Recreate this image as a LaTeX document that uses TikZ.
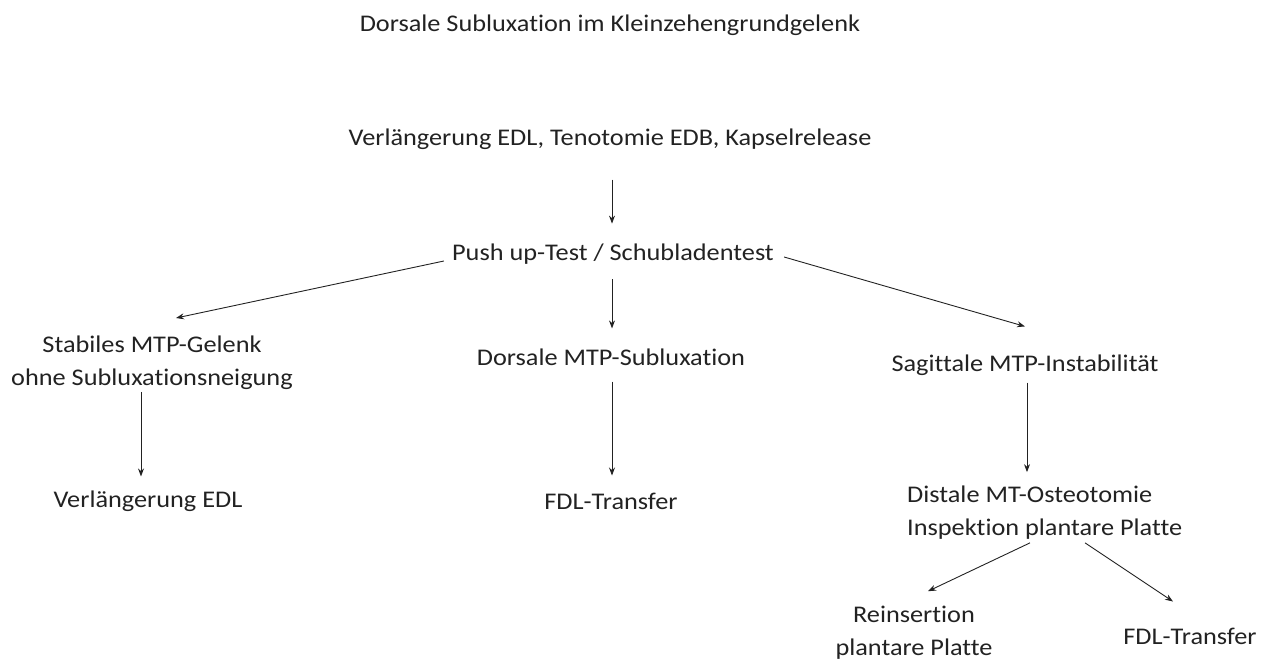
\documentclass[tikz,border=0pt]{standalone}
\usepackage{fontspec}
\setmainfont{Carlito}[Ligatures={NoCommon}, FakeStretch=1.1]
\usetikzlibrary{arrows.meta,calc}
\definecolor{ink}{HTML}{222222}
\tikzset{
  lbl/.style={inner sep=0pt, align=center, text=ink, font=\fontsize{24}{33}\selectfont},
  arr/.style={draw=ink, line width=0.9bp, -{Stealth[length=8bp,width=6bp]}}
}
\begin{document}
\begin{tikzpicture}[x=1bp,y=-1bp]
\useasboundingbox (0,0) rectangle (1269,664);
\node[lbl] (title) at (610,25) {Dorsale Subluxation im Kleinzehengrundgelenk};
\node[lbl] (verl) at (610,139) {Verlängerung EDL, Tenotomie EDB, Kapselrelease};
\node[lbl] (push) at (613,254) {Push up-Test / Schubladentest};
\node[lbl] (stab) at (152,363) {Stabiles MTP-Gelenk\\ohne Subluxationsneigung};
\node[lbl] (dors) at (611,357) {Dorsale MTP-Subluxation};
\node[lbl] (sag) at (1025,365) {Sagittale MTP-Instabilität};
\node[lbl] (edl) at (148,501) {Verlängerung EDL};
\node[lbl] (fdl) at (611,501) {FDL-Transfer};
\node[lbl, align=left, anchor=west] (dist) at (907,513) {Distale MT-Osteotomie\\Inspektion plantare Platte};
\node[lbl] (rein) at (914,633) {Reinsertion\\plantare Platte};
\node[lbl] (fdl2) at (1190,636) {FDL-Transfer};

\draw[arr] ($(verl.south -| 612,0)+(0,30)$) -- ($(push.north -| 612,0)+(0,-20)$);
\draw[arr] ($(push.west)+(-8,7)$) -- ($(stab.north west)+(165,-18)$);
\draw[arr] ($(push.south -| 612,0)+(0,15)$) -- ($(dors.north -| 612,0)+(0,-20)$);
\draw[arr] ($(push.east)+(10,3)$) -- ($(sag.north -| 1025,0)+(0,-28)$);
\draw[arr] ($(stab.south -| 141,0)+(0,2)$) -- ($(edl.north -| 141,0)+(0,-14)$);
\draw[arr] ($(dors.south -| 612,0)+(0,16)$) -- ($(fdl.north -| 612,0)+(0,-17)$);
\draw[arr] ($(sag.south -| 1027,0)+(0,7)$) -- ($(dist.north -| 1027,0)+(0,-14)$);
\draw[arr] ($(dist.south -| 1030,0)+(0,3)$) -- ($(rein.north -| 928,0)+(0,-15)$);
\draw[arr] ($(dist.south -| 1085,0)+(0,3)$) -- ($(fdl2.north -| 1173,0)+(0,-26)$);
\end{tikzpicture}
\end{document}
